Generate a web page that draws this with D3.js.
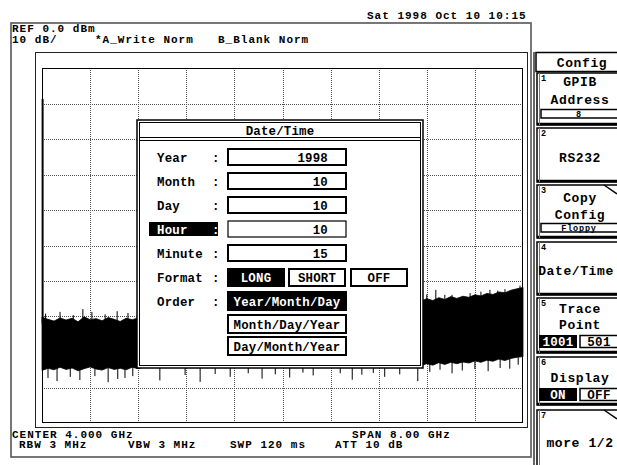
<!DOCTYPE html>
<html><head><meta charset="utf-8">
<script src="https://cdn.jsdelivr.net/npm/d3@7"></script>
<style>
html,body{margin:0;padding:0;background:#fff;}
svg{display:block;}
text{font-family:"Liberation Mono","DejaVu Sans Mono",monospace;font-weight:bold;fill:#000;}
</style>
</head><body><div id="chart"></div>
<script>
// ---------- data ----------
const centerGHz = 4.0, spanGHz = 8.0;
const refLevel = 0, dbPerDiv = 10, yDivs = 10, xDivs = 10;
const traceStepGHz = 0.1;
// upper / lower envelope of the noise trace (dBm), 0.0 .. 8.0 GHz in 0.1 GHz steps
const upperEnv = [
 -70.2,-70.8,-71.3,-70.4,-71.0,-70.5,-71.5,-70.1,-70.9,-70.6,-71.2,-70.3,-70.8,-71.4,-70.5,-70.9,-70.4,
 -70.2,-70.0,-69.9,-69.8,-69.6,-69.5,-69.3,-69.2,-69.0,-68.9,-68.7,-68.6,-68.5,-68.3,-68.2,-68.0,-67.9,
 -67.8,-67.6,-67.5,-67.4,-67.2,-67.1,-67.0,-66.8,-66.7,-66.6,-66.4,-66.3,-66.2,-66.0,-65.9,-65.8,-65.7,
 -65.6,-65.5,-65.6,-65.4,-65.7,-65.5,-65.6,-65.4,-65.5,-65.7,-65.4,-65.5,
 -65.6,-65.0,-65.5,-64.7,-65.2,-64.4,-64.9,-64.3,-64.6,-63.9,-64.2,-63.5,-63.8,-63.1,-63.3,-62.6,-62.2,-61.8
];
const lowerEnv = [
 -85.2,-84.6,-85.0,-84.3,-84.9,-84.5,-85.3,-84.7,-84.2,-84.8,-85.1,-84.4,-84.9,-84.6,-85.0,-84.3,-84.7,
 -84.2,-84.0,-84.1,-83.9,-84.0,-84.2,-83.9,-84.0,-84.1,-83.9,-84.0,-84.1,-83.9,-84.0,-84.2,-83.9,-84.0,
 -84.1,-83.9,-84.0,-84.1,-83.9,-84.0,-84.2,-83.9,-84.0,-84.1,-83.9,-84.0,-84.1,-83.9,-84.0,-84.2,-83.9,
 -84.0,-84.1,-83.9,-84.0,-84.1,-83.9,-84.0,-84.2,-83.9,-84.0,-84.1,-83.9,
 -83.8,-83.3,-83.7,-83.0,-83.5,-82.9,-83.3,-82.8,-83.1,-82.5,-82.9,-82.3,-82.6,-82.0,-82.4,-81.8,-81.5,-81.3
];
// LO feedthrough at 0 Hz
const loFreq = [0.01, 0.01];
const loLevel = [-8.7, -72];
// isolated noise peaks above the band
const spikeUpF = [0.06,0.30,0.52,0.68,0.83,1.05,1.25,1.43,6.40,6.55,6.70,6.82,7.12,7.30,7.45,7.58,7.70,7.95];
const spikeUpV = [-69.2,-68.7,-69.6,-67.9,-68.7,-69.4,-68.5,-69.0,-63.8,-62.5,-63.9,-63.9,-63.4,-63.0,-62.5,-62.7,-62.3,-61.3];
// isolated noise dips below the band
const spikeDnF = [0.10,0.25,0.47,0.63,0.88,1.10,1.26,1.38,1.51,
  1.96,2.38,2.63,2.88,3.13,3.43,3.66,3.88,4.12,4.34,4.51,4.96,5.16,5.32,5.51,5.70,5.95,6.25,
  6.45,6.62,6.82,6.99,7.20,7.42,7.62,7.78,7.92];
const spikeDnV = [-87.3,-88.2,-87.0,-87.9,-86.8,-88.5,-87.6,-87.3,-86.8,
  -88.0,-86.5,-88.4,-86.2,-87.0,-86.0,-87.5,-86.3,-87.2,-85.8,-86.6,-86.0,-87.8,-86.4,-85.9,-87.0,-86.3,-88.2,
  -85.6,-85.0,-86.0,-85.2,-84.8,-85.4,-84.5,-84.7,-83.6];

const dateText = "Sat 1998 Oct 10 10:15";
const headerLeft = ["REF 0.0 dBm", "10 dB/"];
const traceLabels = ["*A_Write Norm", "B_Blank Norm"];
const footerTop = ["CENTER 4.000 GHz", "SPAN 8.00 GHz"];
const footerBottom = ["RBW 3 MHz", "VBW 3 MHz", "SWP 120 ms", "ATT 10 dB"];

const dialogTitle = "Date/Time";
const fieldLabels = ["Year", "Month", "Day", "Hour", "Minute"];
const fieldValues = ["1998", "10", "10", "10", "15"];
const formatOptions = ["LONG", "SHORT", "OFF"];
const orderOptions = ["Year/Month/Day", "Month/Day/Year", "Day/Month/Year"];

const menuTitle = "Config";

// ---------- drawing ----------
const W = 617, H = 465;
const svg = d3.select("#chart").append("svg").attr("width", W).attr("height", H);
svg.append("rect").attr("width", W).attr("height", H).attr("fill", "#fff");

const x = d3.scaleLinear().domain([centerGHz - spanGHz/2, centerGHz + spanGHz/2]).range([42, 523]);
const y = d3.scaleLinear().domain([refLevel, refLevel - dbPerDiv*yDivs]).range([68, 423]);

// frames
svg.append("rect").attr("x", 11).attr("y", 23).attr("width", 520).attr("height", 434)
  .attr("fill", "none").attr("stroke", "#555").attr("stroke-width", 1.6);
svg.append("rect").attr("x", 35.5).attr("y", 52.5).attr("width", 492).attr("height", 375)
  .attr("fill", "none").attr("stroke", "#222").attr("stroke-width", 1);

// grid
const gx = d3.range(1, xDivs).map(i => centerGHz - spanGHz/2 + i*spanGHz/xDivs);
const gy = d3.range(1, yDivs).map(i => refLevel - i*dbPerDiv);
const grid = svg.append("g").attr("stroke", "#555").attr("stroke-width", 1).attr("stroke-dasharray", "1,1");
grid.selectAll("line.v").data(gx).join("line").attr("class", "v")
  .attr("x1", d => Math.round(x(d)) + 0.5).attr("x2", d => Math.round(x(d)) + 0.5).attr("y1", y.range()[0]).attr("y2", y.range()[1]);
grid.selectAll("line.h").data(gy).join("line").attr("class", "h")
  .attr("y1", d => Math.round(y(d)) + 0.5).attr("y2", d => Math.round(y(d)) + 0.5).attr("x1", x.range()[0]).attr("x2", x.range()[1]);
svg.append("rect").attr("x", 42.5).attr("y", 68.5).attr("width", 480).attr("height", 354)
  .attr("fill", "none").attr("stroke", "#000").attr("stroke-width", 1);

// trace
const traceData = upperEnv.map((u, i) => ({f: i*traceStepGHz, u, l: lowerEnv[i]}));
svg.append("path").datum(traceData)
  .attr("d", d3.area().x(d => x(d.f)).y0(d => y(d.l)).y1(d => y(d.u)))
  .attr("fill", "#000").attr("stroke", "#000").attr("stroke-width", 0.8);
const sp = svg.append("g").attr("stroke", "#000").attr("stroke-width", 1);
sp.selectAll("line.up").data(spikeUpF).join("line").attr("class", "up")
  .attr("x1", d => x(d)).attr("x2", d => x(d)).attr("y1", (d, i) => y(spikeUpV[i])).attr("y2", y(-75));
sp.selectAll("line.dn").data(spikeDnF).join("line").attr("class", "dn")
  .attr("x1", d => x(d)).attr("x2", d => x(d)).attr("y1", (d, i) => y(spikeDnV[i])).attr("y2", y(-80));
svg.append("line").attr("x1", x(loFreq[0])).attr("x2", x(loFreq[1]))
  .attr("y1", y(loLevel[0])).attr("y2", y(loLevel[1])).attr("stroke", "#000").attr("stroke-width", 2);

// texts
const T = (t, px, py, opt = {}) => svg.append("text").attr("x", px).attr("y", py)
  .attr("font-size", opt.size || 11).attr("letter-spacing", opt.ls !== undefined ? opt.ls : 1)
  .attr("text-anchor", opt.anchor || "start")
  .style("fill", opt.fill || "#000").text(t);
T(dateText, 367, 19);
T(headerLeft[0], 12, 31.5);
T(headerLeft[1], 12, 43);
T(traceLabels[0], 95, 43);
T(traceLabels[1], 218, 43);
T(footerTop[0], 12, 437.5);
T(footerTop[1], 352, 437.5);
[19, 128, 230, 335].forEach((px, i) => T(footerBottom[i], px, 448));

// dialog
const dlg = {x: 137, y: 120, w: 286, h: 248};
svg.append("rect").attr("x", dlg.x).attr("y", dlg.y).attr("width", dlg.w).attr("height", dlg.h)
  .attr("fill", "#fff").attr("stroke", "#000").attr("stroke-width", 1.5);
svg.append("rect").attr("x", dlg.x + 2.5).attr("y", dlg.y + 2.5).attr("width", dlg.w - 5).attr("height", dlg.h - 5)
  .attr("fill", "none").attr("stroke", "#000").attr("stroke-width", 1);
[137.5, 140.5].forEach(yy => svg.append("line").attr("x1", dlg.x + 2).attr("x2", dlg.x + dlg.w - 2)
  .attr("y1", yy).attr("y2", yy).attr("stroke", "#000").attr("stroke-width", 1));
const D = (t, px, py, opt = {}) => T(t, px, py, Object.assign({size: 12.4, ls: 0.2}, opt));
D(dialogTitle, dlg.x + dlg.w/2, 135, {anchor: "middle"});

const rowY = [148, 172, 196, 220, 244];
fieldLabels.forEach((lab, i) => {
  const by = rowY[i];
  if (lab === "Hour") {
    svg.append("rect").attr("x", 149).attr("y", by + 2).attr("width", 69).attr("height", 14).attr("fill", "#000");
    D(lab, 157, by + 14, {fill: "#fff"});
    D(":", 212, by + 14, {fill: "#fff"});
  } else {
    D(lab, 157, by + 14);
    D(":", 212, by + 14);
  }
  svg.append("rect").attr("x", 228).attr("y", by + 1).attr("width", 118).attr("height", 16)
    .attr("fill", "#fff").attr("stroke", "#000").attr("stroke-width", lab === "Hour" ? 1.2 : 2);
  D(fieldValues[i], 328, by + 14, {anchor: "end"});
});
D("Format", 157, 282); D(":", 212, 282);
const fmtX = [227, 288, 350], fmtW = [58, 58, 58];
formatOptions.forEach((o, i) => {
  const sel = i === 0;
  svg.append("rect").attr("x", fmtX[i] + 1).attr("y", 269).attr("width", fmtW[i] - 2).attr("height", 17)
    .attr("fill", sel ? "#000" : "#fff").attr("stroke", "#000").attr("stroke-width", 2);
  D(o, fmtX[i] + fmtW[i]/2, 282, {anchor: "middle", fill: sel ? "#fff" : "#000"});
});
D("Order", 157, 306); D(":", 212, 306);
const ordY = [292, 315, 337];
orderOptions.forEach((o, i) => {
  const sel = i === 0;
  svg.append("rect").attr("x", 228).attr("y", ordY[i]).attr("width", 118).attr("height", 18)
    .attr("fill", sel ? "#000" : "#fff").attr("stroke", "#000").attr("stroke-width", 2);
  D(o, 287, ordY[i] + 14, {anchor: "middle", fill: sel ? "#fff" : "#000"});
});

// softkey panel
svg.append("line").attr("x1", 534).attr("x2", 534).attr("y1", 52).attr("y2", 465).attr("stroke", "#666").attr("stroke-width", 2);
svg.append("rect").attr("x", 536).attr("y", 52.5).attr("width", 90).attr("height", 19)
  .attr("fill", "#fff").attr("stroke", "#000").attr("stroke-width", 1.5);
const K = (t, px, py, opt = {}) => T(t, px, py, Object.assign({size: 13, ls: 0.6, anchor: "middle"}, opt));
K(menuTitle, 582, 67);

const keys = [
  {n: "1", y0: 73, y1: 125, lines: [["GPIB", 86], ["Address", 104]], field: {y: 109.5, h: 8.5, t: "8"}},
  {n: "2", y0: 128, y1: 182, lines: [["RS232", 162]]},
  {n: "3", y0: 185, y1: 238, corner: true, lines: [["Copy", 202], ["Config", 219]], field: {y: 223.5, h: 8.5, t: "Floppy"}},
  {n: "4", y0: 242, y1: 295, lines: [["Date/Time", 275]]},
  {n: "5", y0: 298, y1: 353, lines: [["Trace", 313], ["Point", 329]], toggle: {y: 335, a: "1001", b: "501"}},
  {n: "6", y0: 357, y1: 405, lines: [["Display", 382]], toggle: {y: 388, a: "ON", b: "OFF"}},
  {n: "7", y0: 410, y1: 472, corner: true, lines: [["more 1/2", 447]]}
];
keys.forEach(k => {
  svg.append("rect").attr("x", 537).attr("y", k.y0).attr("width", 90).attr("height", k.y1 - k.y0)
    .attr("fill", "#fff").attr("stroke", "#000").attr("stroke-width", 1.5);
  svg.append("line").attr("x1", 537).attr("x2", 617).attr("y1", k.y1 - 1).attr("y2", k.y1 - 1)
    .attr("stroke", "#000").attr("stroke-width", 2.5);
  svg.append("line").attr("x1", 539.5).attr("x2", 539.5).attr("y1", k.y0).attr("y2", k.y1)
    .attr("stroke", "#777").attr("stroke-width", 1);
  if (k.corner) svg.append("line").attr("x1", 604).attr("y1", k.y0).attr("x2", 617).attr("y2", k.y0 + 9)
    .attr("stroke", "#000").attr("stroke-width", 1.5);
  T(k.n, 541, k.y0 + 8, {size: 8.5, ls: 0});
  k.lines.forEach(([t, by]) => K(t, t === "Date/Time" ? 576 : 580, by));
  if (k.field) {
    svg.append("rect").attr("x", 541).attr("y", k.field.y).attr("width", 80).attr("height", k.field.h)
      .attr("fill", "#fff").attr("stroke", "#000").attr("stroke-width", 1.5);
    T(k.field.t, 579, k.field.y + k.field.h - 1, {size: 8.5, ls: 0.8, anchor: "middle"});
  }
  if (k.toggle) {
    svg.append("rect").attr("x", 539).attr("y", k.toggle.y).attr("width", 38).attr("height", 13).attr("fill", "#000");
    K(k.toggle.a, 558, k.toggle.y + 11, {size: 12.5, ls: 0.3, fill: "#fff"});
    svg.append("rect").attr("x", 580).attr("y", k.toggle.y + 0.5).attr("width", 40).attr("height", 12)
      .attr("fill", "#fff").attr("stroke", "#000").attr("stroke-width", 1.5);
    K(k.toggle.b, 599, k.toggle.y + 11, {size: 12.5, ls: 0.3});
  }
});
</script>
</body></html>
